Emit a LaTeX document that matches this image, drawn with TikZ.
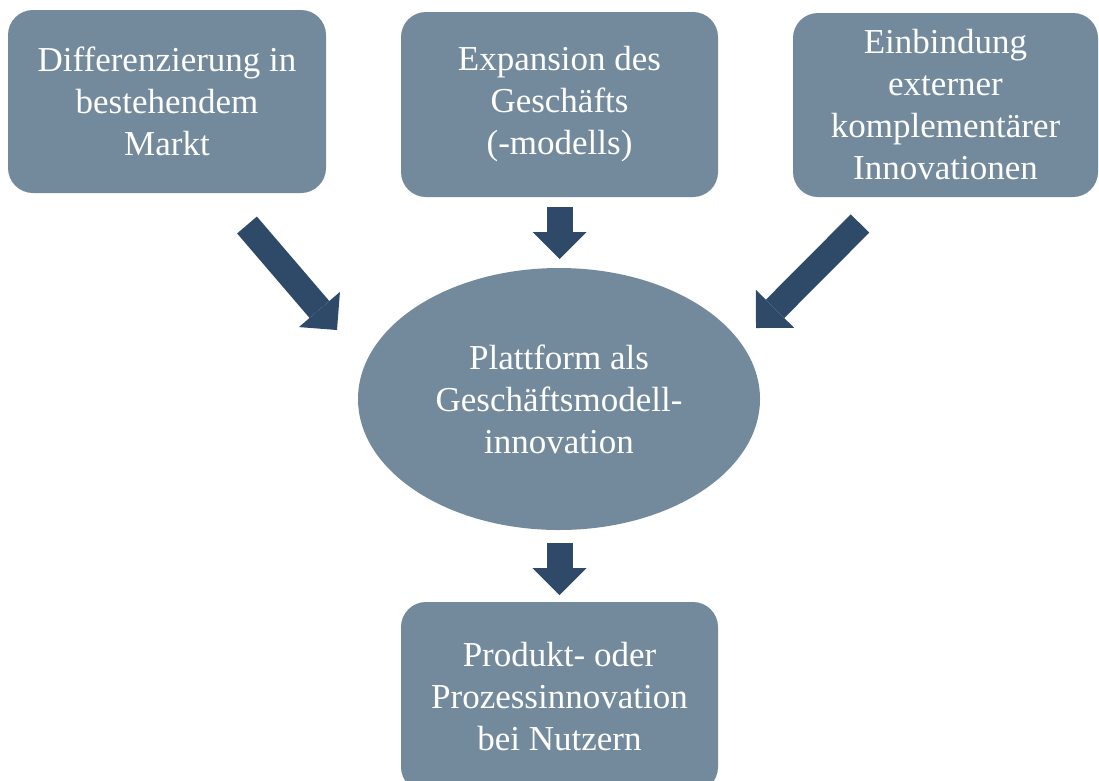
\documentclass[tikz,border=0pt]{standalone}
\usepackage{fontspec}
\setmainfont{Liberation Serif}
\usetikzlibrary{arrows.meta,shapes.geometric}
\definecolor{boxfill}{RGB}{115,138,157}
\definecolor{arrowfill}{RGB}{46,74,104}
\tikzset{
  blockbox/.style={fill=boxfill, rounded corners=25pt, inner sep=0pt, text=white,
    align=center, font=\fontsize{35}{42}\selectfont},
  blockarrow/.style={draw=arrowfill, line width=26pt,
    -{Triangle[width=54pt,length=27pt,line width=0pt]}}
}
\begin{document}
\begin{tikzpicture}[x=1pt, y=-1pt]
        \useasboundingbox (0, 0) rectangle (1099, 780);
        \node[blockbox, minimum width=318pt, minimum height=183pt] (diff) at (167, 101.5)
          {Differenzierung in\\bestehendem\\Markt};
        \node[blockbox, minimum width=317pt, minimum height=185pt] (exp) at (559.5, 104.5)
          {Expansion des\\Geschäfts\\(-modells)};
        \node[blockbox, minimum width=305pt, minimum height=184pt] (ext) at (945.5, 105)
          {Einbindung\\externer\\komplementärer\\Innovationen};
        \node[blockbox, ellipse, minimum width=402pt, minimum height=262pt] (plat) at (559, 399)
          {Plattform als\\Geschäftsmodell-\\innovation};
        \node[blockbox, minimum width=317pt, minimum height=190pt] (prod) at (559.5, 697)
          {Produkt- oder\\Prozessinnovation\\bei Nutzern};
        % arrow ends
        \coordinate (diffout) at (247, 225);
        \coordinate (platinl) at (337, 330);
        \coordinate (expout) at (559.5, 207);
        \coordinate (platint) at (559.5, 259);
        \coordinate (extout) at (860, 223.5);
        \coordinate (platinr) at (756, 328);
        \coordinate (platout) at (559.5, 543);
        \coordinate (prodin) at (559.5, 595);
        \draw[blockarrow] (diffout) -- (platinl);
        \draw[blockarrow] (expout) -- (platint);
        \draw[blockarrow] (extout) -- (platinr);
        \draw[blockarrow] (platout) -- (prodin);
      \end{tikzpicture}
\end{document}
